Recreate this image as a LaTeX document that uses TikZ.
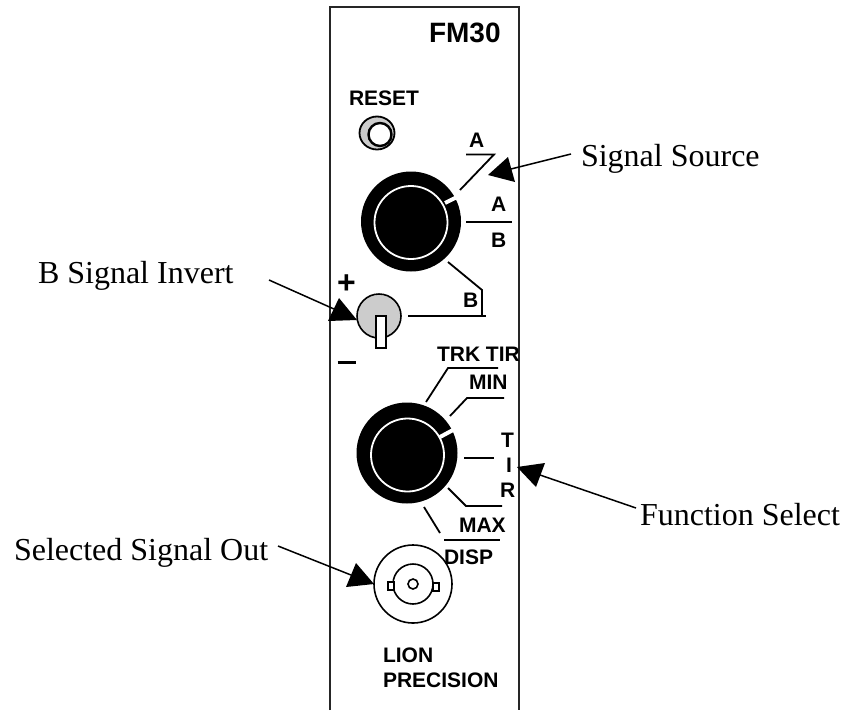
\documentclass[tikz,border=0pt]{standalone}
\usepackage{fontspec}
\setmainfont{Liberation Serif}
\newfontfamily\panelfont{Liberation Sans}[BoldFont={Liberation Sans Bold}]
\tikzset{
 panellabel/.style={anchor=base west,inner sep=0pt,outer sep=0pt,font=\panelfont\bfseries\fontsize{21}{21}\selectfont},
 biglabel/.style={panellabel,font=\panelfont\bfseries\fontsize{28}{28}\selectfont},
 callout/.style={anchor=base west,inner sep=0pt,outer sep=0pt,font=\fontsize{32}{32}\selectfont},
 wire/.style={line width=1.8pt,line join=miter},
 thinwire/.style={line width=1.6pt},
 leader/.style={line width=1.5pt},
 tiphead/.style={fill=black,draw=none},
 knobdisc/.style={fill=black,draw=none},
 knobring/.style={draw=white,line width=1.8pt,fill=black},
 knobtick/.style={draw=white,line width=4pt},
}
\definecolor{capgrey}{gray}{0.8}
\begin{document}
\begin{tikzpicture}[x=1pt,y=-1pt]
\useasboundingbox (0,0) rectangle (845,710);
% panel
\draw[line width=1.5pt,draw=black!85] (330,710) -- (330,7) -- (519,7) -- (519,710);
\node[biglabel] (fm) at (429,42.5) {FM30};
\node[panellabel] (reset) at (349,105) {RESET};
% reset button
\draw[line width=1.8pt,fill=capgrey] (377,133) ellipse (17.5 and 16.5);
\draw[line width=2.4pt,fill=white] (380,134.5) ellipse (11.5 and 11.5);
% knob 1
\fill[knobdisc] (411,221.5) circle (50);
\draw[knobring] (411,222.5) circle (36.5);
\draw[knobtick] (445,203) -- (457,197);
\node[panellabel] (la) at (469,147) {A};
\node[panellabel] (lab) at (491,211) {A};
\node[panellabel] (lbb) at (491,247) {B};
\node[panellabel] (lb) at (463,307) {B};
\draw[wire] (466,154.5) -- (494,154.5) -- (460,190);
\draw[wire] (466,222) -- (512,222);
\draw[wire] (448,262) -- (482,290) -- (482,316);
\draw[wire] (408,316) -- (486,316);
% toggle
\node[anchor=center,inner sep=0pt,font=\panelfont\bfseries\fontsize{32}{32}\selectfont] (plus) at (346.5,284) {+};
\node[anchor=center,inner sep=0pt,font=\panelfont\bfseries\fontsize{32}{32}\selectfont] (minus) at (346.5,362) {\rule[-1.5pt]{18pt}{3pt}};
\draw[thinwire,fill=capgrey] (379,316) circle (22);
\draw[thinwire,fill=white] (376,316) rectangle (386,348);
% knob 2
\fill[knobdisc] (407,453) circle (50.5);
\draw[knobring] (407.5,455) circle (36.5);
\draw[knobtick] (440,437) -- (453,430);
\node[panellabel] (trk) at (437,361) {TRK TIR};
\node[panellabel] (min) at (469,389) {MIN};
\node[panellabel] (t) at (501,447) {T};
\node[panellabel] (i) at (506,472) {I};
\node[panellabel] (r) at (500,497) {R};
\node[panellabel] (max) at (459,532) {MAX};
\node[panellabel] (disp) at (444,564) {DISP};
\draw[wire] (426,402) -- (448,368) -- (498,368);
\draw[wire] (450,416) -- (467,398) -- (504,398);
\draw[wire] (464,458) -- (494,458);
\draw[wire] (448,488) -- (466,506) -- (502,506);
\draw[wire] (424,507) -- (440,533);
\draw[wire] (444,540) -- (500,540);
% BNC
\draw[thinwire] (413,584) circle (39);
\draw[thinwire] (413,584) circle (20);
\draw[thinwire] (413,584) circle (5);
\draw[thinwire,fill=white] (388,582) rectangle (394,590);
\draw[thinwire,fill=white] (433,583) rectangle (439,591);
\node[panellabel] (lion) at (383,662) {LION};
\node[panellabel] (prec) at (383,687) {PRECISION};
% callouts
\node[callout] (src) at (581,166) {Signal Source};
\coordinate (srcstart) at (571,154);
\coordinate (srctip) at (488,175);
\coordinate (srcjoin) at (511,169);
\draw[leader] (srcstart) -- (srcjoin);
\fill[tiphead] (srctip) -- (508,157) -- (515,182) -- cycle;
\node[callout] (inv) at (38,283) {B Signal Invert};
\coordinate (invstart) at (269,280);
\coordinate (invtip) at (357,320);
\coordinate (invjoin) at (334,309);
\draw[leader] (invstart) -- (invjoin);
\fill[tiphead] (invtip) -- (339,298) -- (328,321) -- cycle;
\node[callout] (fn) at (640,525) {Function Select};
\coordinate (fnstart) at (636,508);
\coordinate (fntip) at (517,467);
\coordinate (fnjoin) at (540,475);
\draw[leader] (fnstart) -- (fnjoin);
\fill[tiphead] (fntip) -- (545,463) -- (536,487) -- cycle;
\node[callout] (out) at (14,560) {Selected Signal Out};
\coordinate (outstart) at (278,546);
\coordinate (outtip) at (374,584);
\coordinate (outjoin) at (351,575);
\draw[leader] (outstart) -- (outjoin);
\fill[tiphead] (outtip) -- (356,563) -- (346,587) -- cycle;
\end{tikzpicture}
\end{document}
